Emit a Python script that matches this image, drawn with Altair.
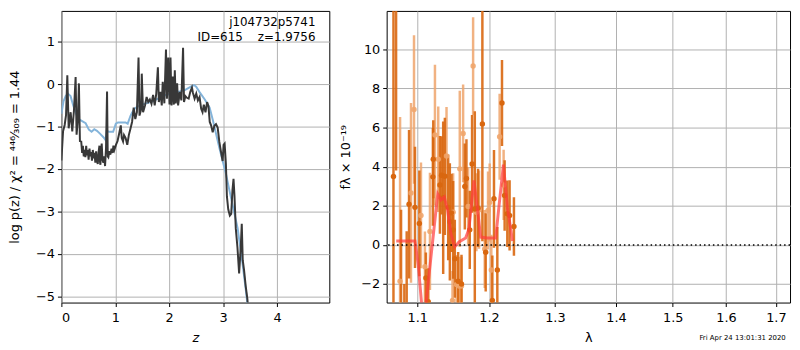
import altair as alt
import pandas as pd

# ---------------- left panel: log p(z) ----------------
dark_z = [0.000,0.031,0.061,0.086,0.110,0.135,0.172,0.202,0.233,0.264,0.282,0.307,0.325,0.344,0.368,0.385,0.399,0.415,0.429,0.445,0.460,0.475,0.491,0.505,0.521,0.537,0.552,0.567,0.583,0.598,0.613,0.630,0.644,0.660,0.675,0.690,0.706,0.715,0.724,0.736,0.748,0.762,0.779,0.795,0.810,0.820,0.828,0.847,0.860,0.871,0.890,0.908,0.930,0.951,0.965,0.982,1.012,1.042,1.072,1.102,1.120,1.144,1.162,1.192,1.222,1.251,1.281,1.311,1.341,1.371,1.401,1.431,1.449,1.479,1.491,1.515,1.551,1.581,1.611,1.641,1.671,1.701,1.731,1.760,1.790,1.808,1.838,1.862,1.880,1.910,1.940,1.958,1.982,2.006,2.024,2.043,2.067,2.086,2.104,2.122,2.147,2.165,2.196,2.226,2.257,2.275,2.300,2.330,2.361,2.391,2.422,2.440,2.471,2.502,2.532,2.563,2.593,2.618,2.642,2.673,2.703,2.728,2.752,2.777,2.807,2.838,2.868,2.899,2.930,2.960,2.991,3.009,3.028,3.052,3.070,3.095,3.125,3.150,3.174,3.193,3.211,3.235,3.266,3.297,3.327,3.346,3.364,3.388,3.419,3.450,3.480]
dark_v = [-1.80,-1.11,-0.96,-0.73,0.21,-1.04,-0.66,-1.11,-0.62,0.17,-1.19,-0.81,0.02,-1.34,-1.35,-1.62,-1.45,-1.70,-1.55,-1.72,-1.45,-1.68,-1.55,-1.78,-1.52,-1.70,-1.60,-1.80,-1.55,-1.75,-1.62,-1.85,-1.58,-1.80,-1.88,-1.60,-1.45,-1.82,-1.90,-1.55,-1.40,-1.78,-1.85,-1.70,-1.93,-1.70,-1.50,-0.17,-1.70,-1.72,-1.58,-1.66,-1.52,-1.62,-1.45,-1.55,-1.43,-1.34,-1.16,-0.97,-1.27,-1.35,-1.20,-1.27,-1.43,-1.20,-1.05,-0.89,-0.55,-0.82,-0.66,0.63,-0.74,-0.59,0.25,-0.66,-0.50,-0.30,-0.42,-0.36,-0.46,-0.25,-0.50,-0.22,0.40,-0.42,-0.18,-0.50,0.06,-0.45,0.82,-0.34,0.63,-0.48,0.63,-0.50,0.18,-0.48,0.33,-0.45,0.02,-0.50,-0.18,-0.38,0.86,-0.42,-0.28,-0.32,-0.34,-0.18,-0.08,-0.20,-0.34,-0.22,-0.38,-0.30,-0.58,-0.66,-0.48,-0.66,-0.42,-0.52,-0.89,-0.97,-1.13,-0.98,-0.94,-1.02,-1.36,-1.59,-1.81,-1.43,-1.40,-1.89,-2.64,-2.95,-3.10,-3.06,-2.49,-2.23,-2.64,-3.40,-3.85,-4.46,-3.85,-3.29,-4.15,-4.38,-4.76,-5.06,-5.60]

blue_z = [0.00,0.04,0.08,0.12,0.17,0.22,0.28,0.33,0.40,0.45,0.51,0.56,0.61,0.66,0.72,0.78,0.82,0.84,0.88,0.96,1.01,1.05,1.19,1.23,1.28,1.31,1.37,1.49,1.68,1.92,2.10,2.29,2.41,2.46,2.50,2.56,2.66,2.75,2.81,2.93,3.05,3.14,3.27,3.36,3.42,3.47]
blue_v = [-0.70,-0.40,-0.28,-0.22,-0.28,-0.50,-0.72,-0.83,-0.88,-0.92,-1.07,-1.12,-1.06,-1.10,-1.17,-1.25,-1.32,-1.10,-1.12,-1.12,-0.93,-0.90,-0.90,-0.93,-0.75,-0.67,-0.56,-0.48,-0.41,-0.26,-0.20,-0.14,-0.05,-0.02,-0.06,-0.18,-0.36,-0.55,-0.85,-1.50,-2.10,-2.64,-3.40,-4.23,-4.84,-5.40]

left_ticks_x = [0, 1, 2, 3, 4]
left_ticks_y = [-5, -4, -3, -2, -1, 0, 1]
label_lines = ["j104732p5741", "ID=615\u00a0\u00a0\u00a0\u00a0z=1.9756"]

# ---------------- right panel: spectrum ----------------
dark_w = [1.0686,1.0720,1.0785,1.0828,1.0859,1.0890,1.0969,1.1027,1.1115,1.1147,1.1210,1.1215,1.1306,1.1328,1.1351,1.1374,1.1420,1.1443,1.1466,1.1489,1.1512,1.1559,1.1606,1.1653,1.1676,1.1723,1.1756,1.1795,1.1842,1.1904,1.1952,1.2049,1.2073,1.2122,1.2191,1.2230,1.2270,1.2304,1.2369]
dark_f = [3.5,14.0,-3.5,-5.0,-3.2,2.08,1.92,1.10,-1.69,-2.90,3.48,4.38,3.07,3.56,2.41,3.51,1.92,1.18,1.64,0.77,-0.71,-1.86,-2.00,2.99,3.40,0.77,4.14,1.84,1.89,6.19,-0.38,-2.84,2.36,-1.28,7.26,2.53,1.59,1.51,0.94]
dark_e = [9.0,10.2,5.3,3.0,3.9,3.8,3.1,2.7,1.3,1.7,2.5,2.0,2.5,2.0,3.9,3.0,2.7,3.0,2.0,2.5,2.0,1.5,1.5,2.2,2.0,2.0,2.5,5.0,2.0,6.0,2.0,2.3,2.5,2.2,2.2,1.8,1.7,1.8,1.5]

light_w = [1.0772,1.0916,1.0956,1.1049,1.1102,1.1170,1.1238,1.1283,1.1397,1.1480,1.1489,1.1536,1.1571,1.1582,1.1606,1.1629,1.1700,1.1771,1.1818,1.1856,1.1938,1.1986,1.2010,1.2034,1.2156,1.2215]
light_f = [-1.86,2.66,6.93,1.51,-1.12,0.69,5.62,4.38,4.55,-2.84,1.67,-2.02,-2.10,3.89,-2.10,5.70,1.97,9.15,1.67,1.80,-0.21,1.76,2.17,-1.28,5.53,3.07]
light_e = [8.4,4.6,3.8,2.7,1.8,3.0,3.6,2.7,2.5,1.5,2.0,1.5,1.5,4.0,1.5,2.5,2.0,2.5,2.0,2.0,2.0,2.0,2.0,1.8,2.2,1.8]

model_w = [1.0722,1.0969,1.1012,1.1064,1.1099,1.1187,1.1276,1.1321,1.1366,1.1411,1.1456,1.1511,1.1571,1.1664,1.1711,1.1783,1.1831,1.1879,1.1975,1.2098,1.2147,1.2212,1.2272,1.2348]
model_f = [0.2,0.2,-1.0,-3.3,-3.6,-0.5,2.6,2.3,2.45,1.8,0.6,-0.1,0.15,0.35,0.8,3.3,1.9,0.4,0.35,0.35,2.0,4.1,1.9,0.2]

right_ticks_x = [1.1, 1.2, 1.3, 1.4, 1.5, 1.6, 1.7]
right_ticks_y = [-2, 0, 2, 4, 6, 8, 10]
stamp = "Fri Apr 24 13:01:31 2020"

FONT = "DejaVu Sans"

# ---------- build left ----------
df_dark = pd.DataFrame({"z": dark_z, "v": dark_v})
df_blue = pd.DataFrame({"z": blue_z, "v": blue_v})
df_lab = pd.DataFrame({"t": label_lines})

lx = alt.Scale(domain=[0, 4.97], nice=False, zero=False)
ly = alt.Scale(domain=[-5.15, 1.73], nice=False, zero=False)
xax = alt.Axis(values=left_ticks_x, title="z", titleFontStyle="italic", labelPadding=5, titlePadding=7)
yax = alt.Axis(values=left_ticks_y, title="log p(z) / χ² = ⁴⁴⁶⁄₃₀₉ = 1.44", titlePadding=14)

blue = alt.Chart(df_blue).mark_line(color="#84b4da", strokeWidth=2, clip=True).encode(
    x=alt.X("z:Q", scale=lx, axis=xax), y=alt.Y("v:Q", scale=ly, axis=yax))
dark = alt.Chart(df_dark).mark_line(color="#383838", strokeWidth=2, clip=True).encode(
    x=alt.X("z:Q", scale=lx), y=alt.Y("v:Q", scale=ly))
lab1 = alt.Chart(df_lab.iloc[[0]]).mark_text(align="right", baseline="middle", fontSize=12, font=FONT, color="black").encode(
    text="t:N", x=alt.value(257), y=alt.value(11))
lab2 = alt.Chart(df_lab.iloc[[1]]).mark_text(align="right", baseline="middle", fontSize=12, font=FONT, color="black").encode(
    text="t:N", x=alt.value(257), y=alt.value(26))

left = alt.layer(blue, dark, lab1, lab2).properties(width=271, height=295)

# ---------- build right ----------
df_d = pd.DataFrame({"w": dark_w, "f": dark_f, "e": dark_e})
df_d["lo"] = df_d["f"] - df_d["e"]
df_d["hi"] = df_d["f"] + df_d["e"]
df_l = pd.DataFrame({"w": light_w, "f": light_f, "e": light_e})
df_l["lo"] = df_l["f"] - df_l["e"]
df_l["hi"] = df_l["f"] + df_l["e"]
df_m = pd.DataFrame({"w": model_w, "f": model_f})
df_s = pd.DataFrame({"t": [stamp]})

rx = alt.Scale(type="log", domain=[1.0598, 1.7294], nice=False, zero=False)
ry = alt.Scale(domain=[-2.95, 11.97], nice=False, zero=False)
rxax = alt.Axis(values=right_ticks_x, format=".1f", title="λ", labelPadding=5, titlePadding=7)
ryax = alt.Axis(values=right_ticks_y, format="d", title="fλ × 10⁻¹⁹", titlePadding=8)

DARK = "#d9670f"
LIGHT = "#efa56c"

lbar = alt.Chart(df_l).mark_rule(color=LIGHT, strokeWidth=2.5, opacity=0.85, clip=True).encode(
    x=alt.X("w:Q", scale=rx, axis=rxax), y=alt.Y("lo:Q", scale=ry, axis=ryax), y2="hi:Q")
dbar = alt.Chart(df_d).mark_rule(color=DARK, strokeWidth=2.5, opacity=0.9, clip=True).encode(
    x=alt.X("w:Q", scale=rx), y=alt.Y("lo:Q", scale=ry), y2="hi:Q")
lpt = alt.Chart(df_l).mark_circle(color=LIGHT, size=30, opacity=0.9, clip=True).encode(
    x=alt.X("w:Q", scale=rx), y=alt.Y("f:Q", scale=ry))
dpt = alt.Chart(df_d).mark_circle(color=DARK, size=30, opacity=1, clip=True).encode(
    x=alt.X("w:Q", scale=rx), y=alt.Y("f:Q", scale=ry))
zero = alt.Chart(df_s).mark_rule(color="black", strokeWidth=1.5, strokeDash=[1.5, 3]).encode(
    y=alt.datum(0, scale=ry))
model = alt.Chart(df_m).mark_line(color="#ff3b3b", strokeWidth=3, opacity=0.7, clip=True).encode(
    x=alt.X("w:Q", scale=rx), y=alt.Y("f:Q", scale=ry))
stamp_txt = alt.Chart(df_s).mark_text(align="center", baseline="middle", fontSize=7, font=FONT, color="black").encode(
    text="t:N", x=alt.value(360), y=alt.value(331))

right = alt.layer(lbar, dbar, lpt, dpt, zero, model, stamp_txt).properties(width=408, height=295)

chart = alt.hconcat(left, right, spacing=9).properties(
    padding={"left": 0, "top": 0, "right": 0, "bottom": 0}
).configure(font=FONT).configure_view(
    stroke="black", strokeWidth=1
).configure_axis(
    grid=True, gridColor="#b0b0b0", gridWidth=1, domain=False,
    tickColor="black", tickSize=4, labelColor="black", labelFontSize=13,
    titleFontSize=13, titleFontWeight="normal", titleColor="black",
    labelFont=FONT, titleFont=FONT, labelPadding=3
)

chart.save("out.html", embed_options={"renderer": "svg", "actions": False})
